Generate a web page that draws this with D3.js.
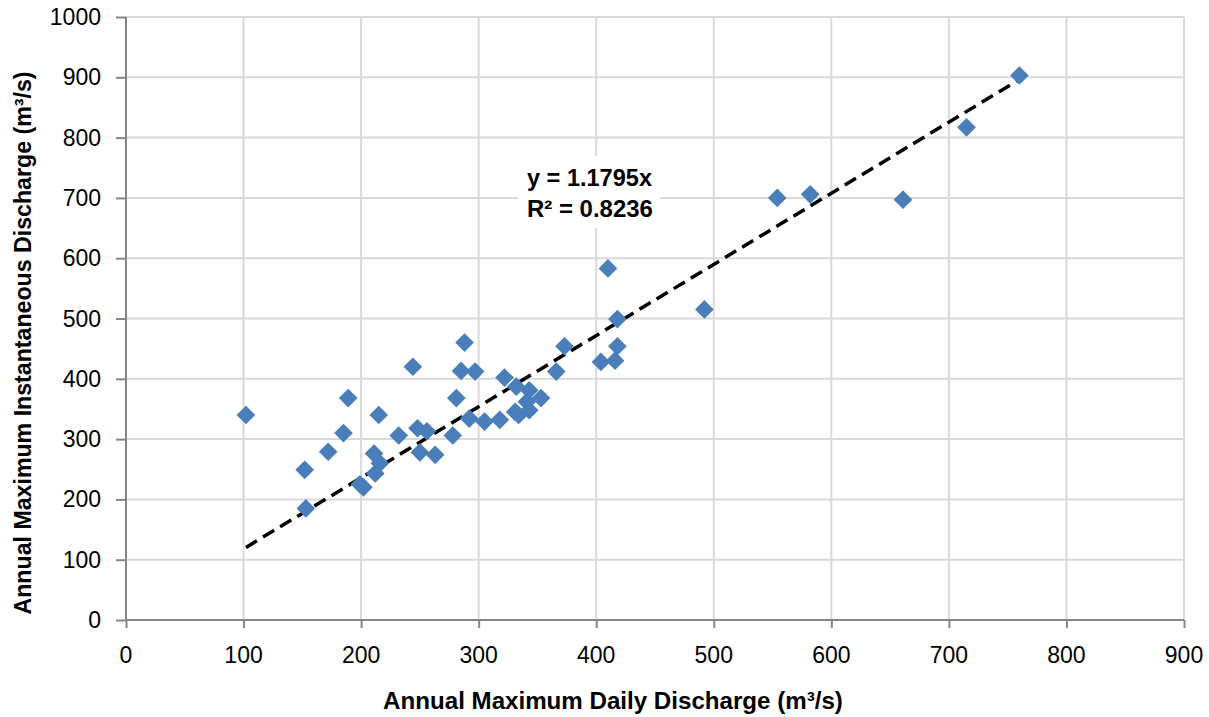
<!DOCTYPE html>
<html>
<head>
<meta charset="utf-8">
<script src="https://cdn.jsdelivr.net/npm/d3@7"></script>
<style>
  html, body { margin: 0; padding: 0; background: #fff; }
  svg { display: block; }
</style>
</head>
<body>
<svg id="chart" width="1209" height="717"></svg>
<script>
// ---- Data ----
const dailyMax = [102, 152, 153, 172, 185, 189, 199, 202, 212, 211, 216, 215, 232, 244, 248, 256, 250, 263,
                  278, 281, 285, 288, 292, 297, 305, 318, 322, 332, 343, 341, 334, 343, 331, 353, 366, 373,
                  404, 416, 418, 418, 410, 492, 554, 582, 661, 715, 760];
const instMax  = [340, 249, 185, 279, 310, 368, 225, 220, 243, 276, 260, 340, 306, 420, 318, 313, 278, 274,
                  306, 368, 413, 460, 334, 412, 329, 332, 402, 387, 381, 362, 340, 348, 345, 368, 412, 454,
                  428, 430, 454, 499, 583, 515, 700, 706, 697, 817, 903];
const xTicks = [0, 100, 200, 300, 400, 500, 600, 700, 800, 900];
const yTicks = [0, 100, 200, 300, 400, 500, 600, 700, 800, 900, 1000];
const trendSlope = 1.1795;
const trendRange = [102, 762];
const eqLines = ["y = 1.1795x", "R² = 0.8236"];
const xTitle = "Annual Maximum Daily Discharge (m³/s)";
const yTitle = "Annual Maximum Instantaneous Discharge (m³/s)";

// ---- Layout ----
const svg = d3.select("#chart");
const x = d3.scaleLinear().domain([0, 900]).range([126, 1184]);
const y = d3.scaleLinear().domain([0, 1000]).range([620, 17]);
const gridColor = "#d9d9d9";
const axisColor = "#868686";
const pointColor = "#4a7ebb";
const tickFont = "Liberation Sans";
const boldFont = "Liberation Sans";

function fitText(sel, target) {
  const node = sel.node();
  const fs = parseFloat(sel.attr("font-size"));
  const w = node.getComputedTextLength();
  sel.attr("font-size", (fs * target / w).toFixed(2));
}

// gridlines
svg.append("g").selectAll("line").data(xTicks.filter(d => d > 0)).join("line")
  .attr("x1", d => x(d)).attr("x2", d => x(d))
  .attr("y1", y(1000)).attr("y2", y(0))
  .attr("stroke", gridColor).attr("stroke-width", 2);
svg.append("g").selectAll("line").data(yTicks.filter(d => d > 0)).join("line")
  .attr("x1", x(0)).attr("x2", x(900))
  .attr("y1", d => y(d)).attr("y2", d => y(d))
  .attr("stroke", gridColor).attr("stroke-width", 2);

// axes (lines and ticks from d3 axes; labels drawn below with the same scales)
const xAxis = d3.axisBottom(x).tickValues(xTicks).tickSize(8).tickFormat("");
const yAxis = d3.axisLeft(y).tickValues(yTicks).tickSize(10).tickFormat("");
const gx = svg.append("g").attr("transform", `translate(0,${y(0)})`).call(xAxis);
const gy = svg.append("g").attr("transform", `translate(${x(0)},0)`).call(yAxis);
[gx, gy].forEach(g => {
  g.select(".domain").attr("stroke", axisColor).attr("stroke-width", 2);
  g.selectAll(".tick line").attr("stroke", axisColor).attr("stroke-width", 2);
});
gx.selectAll(".domain").attr("d", `M${x(0)},0H${x(900)}`);
gy.selectAll(".domain").attr("d", `M0,${y(0)}V${y(1000)}`);

svg.append("g").selectAll("text").data(xTicks).join("text")
  .attr("x", d => x(d)).attr("y", 663)
  .attr("text-anchor", "middle")
  .attr("font-family", tickFont).attr("font-size", 23).attr("fill", "#000")
  .text(d => d);
svg.append("g").selectAll("text").data(yTicks).join("text")
  .attr("x", 101).attr("y", d => y(d) + 8)
  .attr("text-anchor", "end")
  .attr("font-family", tickFont).attr("font-size", 23).attr("fill", "#000")
  .text(d => d);

// trendline
svg.append("line")
  .attr("x1", x(trendRange[0])).attr("y1", y(trendRange[0] * trendSlope))
  .attr("x2", x(trendRange[1])).attr("y2", y(trendRange[1] * trendSlope))
  .attr("stroke", "#000").attr("stroke-width", 3.5)
  .attr("stroke-dasharray", "13,7");

// points
const pts = dailyMax.map((d, i) => ({ x: d, y: instMax[i] }));
const sym = d3.symbol().type(d3.symbolSquare).size(175);
svg.append("g").selectAll("path").data(pts).join("path")
  .attr("d", sym)
  .attr("transform", d => `translate(${x(d.x)},${y(d.y)}) rotate(45)`)
  .attr("fill", pointColor);

// equation label with white background
svg.append("rect").attr("x", 518).attr("y", 156).attr("width", 142).attr("height", 72).attr("fill", "#fff");
const eq1 = svg.append("text").attr("x", 527).attr("y", 186)
  .attr("font-family", boldFont).attr("font-weight", "bold").attr("font-size", 21).text(eqLines[0]);
fitText(eq1, 125);
const eq2 = svg.append("text").attr("x", 527).attr("y", 217)
  .attr("font-family", boldFont).attr("font-weight", "bold").attr("font-size", 21).text(eqLines[1]);
fitText(eq2, 126);

// axis titles
const xt = svg.append("text").attr("x", 613).attr("y", 709).attr("text-anchor", "middle")
  .attr("font-family", boldFont).attr("font-weight", "bold").attr("font-size", 21).text(xTitle);
fitText(xt, 460);
const yt = svg.append("text").attr("transform", "translate(31,343) rotate(-90)").attr("text-anchor", "middle")
  .attr("font-family", boldFont).attr("font-weight", "bold").attr("font-size", 21).text(yTitle);
fitText(yt, 543);
</script>
</body>
</html>
